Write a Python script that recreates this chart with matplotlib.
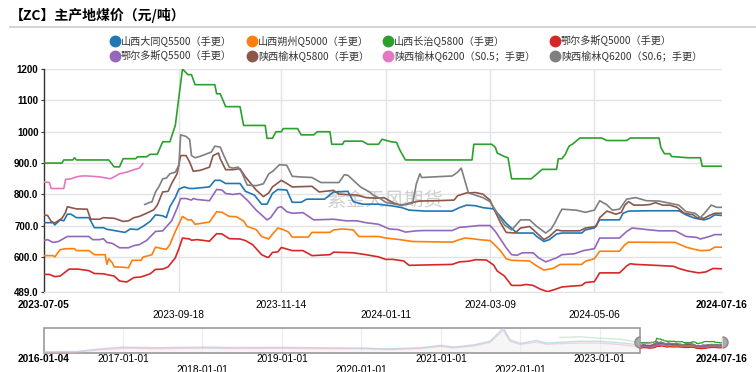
import numpy as np
import pandas as pd
import matplotlib.pyplot as plt
import matplotlib.transforms as mtransforms
from matplotlib.lines import Line2D
from matplotlib.patches import Rectangle

plt.rcParams['font.family'] = ['Noto Sans CJK SC', 'DejaVu Sans']

W, H = 756, 372
START = pd.Timestamp('2023-07-05')
END = pd.Timestamp('2024-07-16')
HIST_START = pd.Timestamp('2016-01-04')

# ---- main window data: day offset from START, price (元/吨) ----
datong_days = [0, 5, 6, 9, 11, 13, 15, 18, 25, 28, 33, 35, 39, 45, 48, 52, 55, 59, 62, 66, 68, 70, 73, 75, 78,
               81, 83, 92, 95, 98, 101, 109, 112, 117, 121, 124, 127, 130, 135, 138, 143, 146, 156, 161, 169,
               172, 177, 186, 194, 199, 203, 212, 227, 231, 235, 240, 244, 250, 253, 257, 261, 263, 272, 274,
               278, 281, 285, 288, 299, 301, 306, 309, 320, 322, 325, 337, 353, 357, 362, 367, 370, 373, 377]
datong_vals = [710, 710, 703, 719, 716, 737, 737, 726, 726, 694, 694, 689, 685, 679, 690, 688, 698, 714, 735, 732,
               726, 761, 790, 817, 824, 819, 819, 824, 845, 845, 835, 835, 810, 798, 769, 769, 803, 816, 814, 775,
               775, 785, 785, 808, 810, 777, 769, 769, 763, 758, 750, 747, 747, 758, 766, 764, 758, 754, 735, 708,
               687, 677, 677, 666, 650, 656, 674, 677, 677, 687, 693, 719, 719, 740, 747, 748, 748, 735, 724, 719,
               724, 735, 733]

shuozhou_days = [0, 5, 6, 9, 12, 17, 18, 25, 28, 34, 35, 36, 38, 39, 44, 47, 49, 54, 55, 60, 62, 66, 68, 70, 73,
                 75, 77, 80, 82, 84, 92, 96, 99, 103, 107, 111, 113, 118, 121, 125, 126, 130, 133, 136, 138, 147,
                 149, 159, 161, 166, 172, 175, 186, 190, 198, 205, 227, 231, 234, 238, 242, 248, 250, 254, 257,
                 260, 270, 274, 278, 283, 287, 299, 301, 306, 309, 320, 323, 325, 351, 357, 361, 365, 370, 373, 377]
shuozhou_vals = [605, 605, 601, 624, 627, 627, 621, 621, 608, 608, 577, 595, 582, 569, 568, 566, 590, 590, 600,
                 608, 632, 627, 625, 640, 682, 706, 730, 719, 719, 705, 712, 745, 743, 730, 729, 715, 698, 688,
                 666, 658, 666, 693, 688, 680, 664, 664, 679, 679, 687, 690, 687, 666, 666, 661, 656, 650, 648,
                 656, 661, 659, 656, 653, 643, 619, 595, 590, 588, 572, 559, 564, 577, 577, 587, 595, 619, 619,
                 640, 648, 647, 632, 626, 621, 622, 632, 632]

changzhi_days = [0, 10, 11, 16, 17, 18, 36, 39, 42, 44, 51, 52, 57, 59, 63, 66, 70, 73, 77, 80, 82, 84, 95, 96,
                 98, 101, 109, 111, 123, 124, 127, 129, 132, 133, 141, 143, 150, 152, 159, 160, 166, 167, 177,
                 180, 186, 188, 193, 196, 198, 201, 238, 239, 249, 251, 252, 256, 258, 260, 271, 277, 285, 286,
                 288, 290, 291, 292, 294, 298, 310, 313, 324, 326, 342, 343, 345, 348, 349, 358, 365, 366, 377]
changzhi_vals = [900, 900, 910, 910, 917, 910, 910, 888, 888, 914, 914, 920, 920, 928, 928, 968, 968, 1020,
                 1200, 1182, 1182, 1150, 1150, 1121, 1121, 1080, 1080, 1020, 1020, 979, 979, 1000, 1000, 1010,
                 1010, 990, 990, 1000, 1000, 960, 960, 970, 970, 960, 960, 976, 968, 966, 940, 910, 910, 960,
                 960, 950, 932, 921, 917, 850, 850, 880, 880, 914, 914, 929, 943, 954, 961, 980, 980, 972, 972,
                 980, 980, 950, 930, 930, 921, 917, 917, 890, 890]

erdos5000_days = [0, 3, 6, 9, 14, 19, 25, 28, 33, 37, 39, 42, 46, 50, 54, 59, 62, 66, 69, 73, 75, 77, 81, 82,
                  85, 92, 96, 99, 103, 109, 112, 116, 121, 124, 125, 127, 130, 132, 135, 138, 144, 149, 159, 161,
                  172, 179, 186, 190, 194, 200, 203, 211, 227, 231, 236, 240, 246, 250, 252, 256, 260, 265, 268,
                  272, 276, 280, 284, 288, 294, 299, 301, 306, 309, 320, 324, 326, 329, 340, 350, 353, 358, 361,
                  364, 368, 372, 377]
erdos5000_vals = [545, 545, 538, 540, 562, 562, 557, 548, 547, 542, 540, 524, 521, 535, 537, 547, 561, 562, 569,
                  598, 627, 661, 658, 654, 656, 651, 675, 674, 659, 658, 653, 640, 608, 600, 600, 615, 617, 631,
                  626, 621, 621, 605, 608, 616, 614, 608, 601, 593, 593, 588, 574, 575, 577, 585, 587, 592, 591,
                  575, 556, 540, 510, 510, 513, 510, 498, 490, 497, 505, 508, 510, 519, 522, 550, 550, 572, 579,
                  577, 574, 571, 564, 556, 553, 550, 553, 564, 563]

erdos5500_days = [0, 2, 5, 8, 13, 25, 27, 31, 33, 35, 38, 42, 47, 50, 53, 57, 62, 66, 71, 74, 76, 79, 82, 83, 85,
                  92, 96, 99, 101, 105, 109, 113, 118, 124, 126, 130, 132, 135, 138, 144, 150, 161, 168, 174,
                  179, 186, 192, 197, 201, 207, 211, 227, 231, 237, 242, 248, 251, 254, 257, 260, 263, 266, 272,
                  275, 279, 285, 288, 295, 300, 306, 309, 320, 324, 327, 337, 342, 351, 357, 363, 365, 370, 373, 377]
erdos5500_vals = [653, 656, 647, 650, 666, 666, 656, 656, 659, 647, 644, 630, 630, 637, 640, 653, 682, 684, 716,
                  756, 787, 787, 782, 787, 784, 780, 816, 814, 803, 800, 803, 782, 750, 719, 726, 758, 761, 745,
                  740, 742, 719, 721, 716, 716, 710, 705, 690, 688, 680, 684, 685, 685, 695, 698, 701, 701, 682,
                  656, 630, 608, 606, 614, 614, 598, 585, 598, 608, 611, 621, 627, 661, 661, 682, 693, 687, 684,
                  684, 666, 663, 658, 666, 672, 672]

yulin5800_days = [0, 2, 4, 6, 10, 12, 13, 15, 18, 24, 26, 31, 33, 39, 44, 47, 50, 53, 57, 61, 63, 66, 69, 71, 74,
                  76, 79, 81, 83, 87, 92, 94, 97, 98, 101, 105, 109, 112, 118, 122, 125, 127, 132, 135, 138, 149,
                  153, 161, 164, 174, 179, 186, 189, 194, 198, 201, 205, 209, 218, 228, 230, 235, 240, 244, 248,
                  250, 254, 257, 262, 265, 270, 275, 278, 281, 285, 288, 298, 301, 307, 309, 313, 315, 318, 321,
                  323, 325, 328, 333, 337, 340, 344, 348, 352, 356, 361, 363, 367, 370, 373, 377]
yulin5800_vals = [735, 733, 714, 709, 724, 743, 761, 758, 754, 753, 721, 721, 726, 724, 714, 716, 726, 730, 740,
                  751, 766, 808, 810, 835, 866, 924, 924, 903, 874, 877, 887, 924, 932, 914, 879, 879, 882, 856,
                  814, 793, 805, 824, 845, 835, 824, 826, 808, 813, 801, 798, 790, 788, 790, 774, 766, 768, 775,
                  779, 780, 782, 796, 805, 806, 801, 782, 756, 708, 679, 677, 693, 698, 672, 656, 666, 687, 684,
                  684, 693, 698, 726, 747, 743, 737, 743, 766, 777, 766, 766, 768, 774, 766, 766, 759, 740, 735,
                  726, 724, 733, 740, 740]

yulin6200a_days = [0, 3, 4, 11, 12, 15, 18, 21, 24, 31, 37, 39, 42, 46, 50, 53, 55]
yulin6200a_vals = [840, 838, 819, 819, 848, 850, 856, 859, 859, 856, 850, 856, 866, 871, 879, 884, 898]

yulin6200b_days = [56, 59, 60, 62, 64, 66, 68, 70, 73, 75, 76, 79, 81, 82, 84, 87, 93, 95, 98, 100, 103, 105,
                   108, 110, 113, 118, 122, 125, 127, 131, 135, 138, 142, 149, 154, 164, 167, 169, 172, 176, 181,
                   183, 187, 190, 196, 199, 205, 207, 209, 210, 227, 230, 232, 236, 244, 248, 251, 256, 260, 265,
                   270, 274, 279, 282, 284, 287, 288, 296, 301, 306, 309, 313, 316, 320, 324, 329, 335, 342, 348,
                   353, 357, 362, 365, 368, 371, 374, 377]
yulin6200b_vals = [768, 775, 776, 808, 826, 850, 852, 866, 871, 893, 990, 985, 975, 924, 917, 922, 935, 954, 951,
                   924, 887, 884, 887, 870, 830, 828, 834, 866, 873, 895, 893, 858, 856, 854, 838, 838, 863, 861,
                   845, 824, 808, 798, 787, 775, 768, 767, 772, 833, 866, 854, 859, 871, 884, 805, 790, 777, 750,
                   703, 687, 719, 719, 698, 677, 690, 709, 743, 753, 750, 743, 750, 780, 767, 750, 753, 785, 790,
                   780, 779, 772, 766, 745, 740, 726, 745, 766, 759, 759]

names = ['山西大同Q5500（手更）', '山西朔州Q5000（手更）', '山西长治Q5800（手更）', '鄂尔多斯Q5000（手更）',
         '鄂尔多斯Q5500（手更）', '陕西榆林Q5800（手更）', '陕西榆林Q6200（S0.5；手更）', '陕西榆林Q6200（S0.6；手更）']
colors = ['#1f77b4', '#ff7f0e', '#2ca02c', '#d62728', '#9467bd', '#8c564b', '#e377c2', '#7f7f7f']
series_days = [datong_days, shuozhou_days, changzhi_days, erdos5000_days, erdos5500_days,
               yulin5800_days, yulin6200a_days, yulin6200b_days]
series_vals = [datong_vals, shuozhou_vals, changzhi_vals, erdos5000_vals, erdos5500_vals,
               yulin5800_vals, yulin6200a_vals, yulin6200b_vals]

# ---- long history shown faded in the zoom slider ----
hist_dates = ['2016-01-04', '2016-06-01', '2016-10-01', '2017-01-01', '2017-06-01', '2018-01-01', '2018-06-01',
              '2019-01-01', '2019-06-01', '2020-01-01', '2020-05-01', '2020-10-01', '2021-01-01', '2021-03-01',
              '2021-06-01', '2021-08-15', '2021-10-15', '2021-11-15', '2022-01-01', '2022-03-15', '2022-05-01',
              '2022-08-01', '2022-10-01', '2023-01-01', '2023-04-01', '2023-07-05']
hist_high = [280, 300, 500, 600, 560, 600, 570, 580, 560, 540, 480, 560, 720, 600, 750, 1000, 1900, 1100,
             850, 1050, 880, 950, 1000, 1000, 900, 750]
hist_low = [240, 260, 430, 520, 500, 530, 510, 520, 500, 490, 430, 500, 650, 550, 680, 920, 1750, 1000,
            780, 950, 800, 850, 880, 880, 780, 620]
hist_top_dates = ['2022-07-01', '2022-10-01', '2023-01-01', '2023-04-01', '2023-07-05']
hist_top = [1250, 1300, 1200, 1150, 900]

y_ticks = [489, 600, 700, 800, 900, 1000, 1100, 1200]
y_labels = ['489.0', '600.0', '700.0', '800.0', '900.0', '1000', '1100', '1200']
tick_days = [0, 75, 132, 190, 248, 306, 377]
hist_ticks = ['2016-01-04', '2017-01-01', '2018-01-01', '2019-01-01', '2020-01-01', '2021-01-01',
              '2022-01-01', '2023-01-01', '2024-07-16']


def fx(px):
    return px / W


def fy(py):
    return 1 - py / H


fig = plt.figure(figsize=(W / 100, H / 100), dpi=100)

# title + separator
fig.text(fx(10), fy(15), '【ZC】主产地煤价（元/吨）', fontsize=10, fontweight='bold', ha='left', va='center')
fig.add_artist(Line2D([fx(10), 1], [fy(27), fy(27)], color='#cccccc', lw=1.2))

# legend, drawn by hand
leg_x = [115, 252, 388, 555]
leg_y = [41, 56]
for i, (name, c) in enumerate(zip(names, colors)):
    x = leg_x[i % 4]
    y = leg_y[i // 4]
    fig.add_artist(Line2D([fx(x)], [fy(y)], marker='o', ms=7.5, color=c, mec=c))
    fig.text(fx(x + 6), fy(y), name, fontsize=7.3, ha='left', va='center', color='#333333')

# main chart
ax = fig.add_axes([fx(44), fy(292), fx(722) - fx(44), fy(69) - fy(292)])
for d, v, c in zip(series_days, series_vals, colors):
    ax.plot(d, v, color=c, lw=1.2, zorder=3)
ax.set_xlim(0, 377)
ax.set_ylim(489, 1200)
ax.set_yticks(y_ticks)
ax.set_yticklabels(y_labels, fontsize=7, fontweight='bold', family='Liberation Sans')
ax.set_xticks(tick_days[1:-1])
ax.tick_params(axis='x', length=0, labelbottom=False)
ax.tick_params(axis='y', length=2, width=0.8, color='#333333', pad=2)
ax.grid(True, color='#e3e3e3', lw=1)
ax.set_axisbelow(True)
for s in ['top', 'right']:
    ax.spines[s].set_visible(False)
ax.spines['bottom'].set_color('#e3e3e3')
ax.spines['left'].set_color('#333333')
ax.spines['left'].set_linewidth(1)

ax.text(fx(385), fy(200), '紫金天风期货', transform=fig.transFigure, fontsize=14,
        color='#d0d0d0', ha='center', va='center', zorder=1)

tr = mtransforms.blended_transform_factory(ax.transData, fig.transFigure)
for i, d in enumerate(tick_days):
    lab = (START + pd.Timedelta(days=d)).strftime('%Y-%m-%d')
    row_y = fy(305) if i % 2 == 0 else fy(315)
    bold = i in (0, len(tick_days) - 1)
    ax.text(d, row_y, lab, transform=tr, ha='center', va='center', fontsize=7.3,
            family='Liberation Sans', fontweight='bold' if bold else 'normal', clip_on=False)

# zoom slider
sx = fig.add_axes([fx(44), fy(353), fx(722) - fx(44), fy(328) - fy(353)])
sx.set_axis_off()
total = (END - HIST_START).days
sel0 = (START - HIST_START).days
sx.set_xlim(0, total)
sx.set_ylim(200, 1900)

for t in hist_ticks[1:-1]:
    xd = (pd.Timestamp(t) - HIST_START).days
    sx.axvline(xd, color='#ececec', lw=0.8, zorder=0)

hd = [(pd.Timestamp(t) - HIST_START).days for t in hist_dates]
htd = [(pd.Timestamp(t) - HIST_START).days for t in hist_top_dates]
sx.plot(hd, hist_high, color='#9ec4e6', lw=1, alpha=0.6)
sx.plot(hd, hist_low, color='#e6b8c4', lw=1, alpha=0.6)
sx.plot(htd, hist_top, color='#b8dcb0', lw=1, alpha=0.6)
sx.fill_between(hd, 200, hist_low, color='#eeeeee', alpha=0.5, lw=0)

for d, v, c in zip(series_days, series_vals, colors):
    sx.plot([sel0 + k for k in d], v, color=c, lw=0.9)

sx.add_patch(Rectangle((0, 200), sel0, 1700, fill=False, ec='#999999', lw=1.2, clip_on=False))
sx.plot([total, total], [560, 1300], color='#999999', lw=1)

ang = np.linspace(np.pi / 2, 3 * np.pi / 2, 24)
left_half = list(zip(np.cos(ang), np.sin(ang)))
right_half = [(-a, b) for a, b in left_half]
sx.plot([sel0], [950], marker=left_half, ms=8, color='#aaaaaa', mec='#888888', clip_on=False)
sx.plot([total], [950], marker=right_half, ms=8, color='#aaaaaa', mec='#888888', clip_on=False)

tr2 = mtransforms.blended_transform_factory(sx.transData, fig.transFigure)
for i, t in enumerate(hist_ticks):
    xd = (pd.Timestamp(t) - HIST_START).days
    bold = i in (0, len(hist_ticks) - 1)
    if bold:
        row_y = fy(359)
    else:
        row_y = fy(359) if i % 2 == 1 else fy(370)
    sx.text(xd, row_y, t, transform=tr2, ha='center', va='center', fontsize=7.3,
            family='Liberation Sans', fontweight='bold' if bold else 'normal', clip_on=False)

fig.savefig('out.png', dpi=100)
